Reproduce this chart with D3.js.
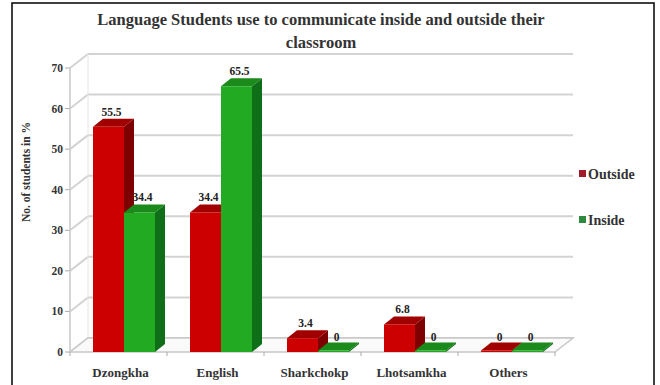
<!DOCTYPE html>
<html><head><meta charset="utf-8">
<script src="https://cdn.jsdelivr.net/npm/d3@7/dist/d3.min.js"></script>
<style>body{margin:0;background:#fff}svg{display:block}text{font-family:"Liberation Serif","Times New Roman",serif;font-weight:bold}</style>
</head><body>
<svg id="c" width="660" height="385"></svg>
<script>
const categories = ["Dzongkha","English","Sharkchokp","Lhotsamkha","Others"];
const seriesNames = ["Outside","Inside"];
const outside = [55.5, 34.4, 3.4, 6.8, 0];
const inside = [34.4, 65.5, 0, 0, 0];
const yTicks = [0,10,20,30,40,50,60,70];
const title1 = "Language Students use to communicate inside and outside their";
const title2 = "classroom";
const yTitle = "No. of students in %";

const svg = d3.select("#c");
// outer border
svg.append("rect").attr("x",12).attr("y",3).attr("width",642).attr("height",390)
  .attr("fill","#fff").attr("stroke","#000").attr("stroke-width",1.5);

const x0 = 70, x1 = 555, yb = 352, yt = 68;
const wdx = 18, wdy = -14; // wall depth
const bdx = 10, bdy = -8;  // bar depth
const y = d3.scaleLinear().domain([0,70]).range([yb,yt]);
const xb = d3.scaleBand().domain(categories).range([x0,x1]);
const series = [
  {name: seriesNames[0], vals: outside, front:"#cc0000", side:"#7e0000", top:"#a00000", legend:"#a01c2a"},
  {name: seriesNames[1], vals: inside, front:"#22aa22", side:"#0f6e18", top:"#1a8a1a", legend:"#2e8b3e"}
];
const grid = "#d3d3d3";

// walls
const g = svg.append("g");
yTicks.forEach(t => {
  const yy = y(t);
  g.append("line").attr("x1",x0).attr("y1",yy).attr("x2",x0+wdx).attr("y2",yy+wdy).attr("stroke",grid).attr("stroke-width",2);
  g.append("line").attr("x1",x0+wdx).attr("y1",yy+wdy).attr("x2",x1+wdx).attr("y2",yy+wdy).attr("stroke",grid).attr("stroke-width",2);
  g.append("line").attr("x1",x0-5).attr("y1",yy).attr("x2",x0).attr("y2",yy).attr("stroke","#aaa");
  g.append("text").attr("x",x0-7).attr("y",yy+4).attr("text-anchor","end").attr("font-size",11.5).attr("fill","#333").text(t);
});
g.append("line").attr("x1",x0).attr("y1",yb).attr("x2",x0).attr("y2",yt).attr("stroke","#c8c8c8").attr("stroke-width",1.5);
g.append("line").attr("x1",x0+wdx).attr("y1",yb+wdy).attr("x2",x0+wdx).attr("y2",yt+wdy).attr("stroke","#e4e4e4").attr("stroke-width",1);
// floor
g.append("path").attr("d",`M${x0},${yb}L${x1},${yb}L${x1+wdx},${yb+wdy}L${x0+wdx},${yb+wdy}Z`)
  .attr("fill","#fafafa").attr("stroke","#c8c8c8").attr("stroke-width",1.5);
categories.forEach((c,i)=>{
  const xx = xb(c);
  g.append("line").attr("x1",xx).attr("y1",yb).attr("x2",xx).attr("y2",yb+4).attr("stroke","#aaa");
});
g.append("line").attr("x1",x1).attr("y1",yb).attr("x2",x1).attr("y2",yb+4).attr("stroke","#aaa");

// bars
const bw = 31, off = 23;
categories.forEach((c,i)=>{
  series.forEach((s,j)=>{
    const v = s.vals[i];
    const xl = xb(c) + off + j*bw;
    const xr = xl + bw;
    const ytop = y(v) - (v===0 ? 1.5 : 0);
    const bg = svg.append("g");
    bg.append("path").attr("d",`M${xr},${yb}L${xr+bdx},${yb+bdy}L${xr+bdx},${ytop+bdy}L${xr},${ytop}Z`).attr("fill",s.side);
    bg.append("path").attr("d",`M${xl},${ytop}L${xl+bdx},${ytop+bdy}L${xr+bdx},${ytop+bdy}L${xr},${ytop}Z`).attr("fill",s.top);
    bg.append("rect").attr("x",xl).attr("y",ytop).attr("width",bw).attr("height",yb-ytop).attr("fill",s.front);
  });
});
// labels
categories.forEach((c,i)=>{
  series.forEach((s,j)=>{
    const v = s.vals[i];
    const xl = xb(c) + off + j*bw;
    svg.append("text").attr("x",xl+bw/2+bdx/2-2).attr("y",y(v)+bdy-3).attr("text-anchor","middle")
      .attr("font-size",11.5).attr("font-weight","normal").attr("fill","#222").text(v);
  });
});
// x labels
categories.forEach(c=>{
  svg.append("text").attr("x",xb(c)+xb.bandwidth()/2+2).attr("y",377).attr("text-anchor","middle")
    .attr("font-size",13).attr("fill","#333").text(c);
});
// title
svg.append("text").attr("x",321).attr("y",25).attr("text-anchor","middle").attr("font-size",16.5).attr("fill","#333").text(title1);
svg.append("text").attr("x",321).attr("y",48).attr("text-anchor","middle").attr("font-size",16.5).attr("fill","#333").text(title2);
// y title
svg.append("text").attr("transform","translate(30,172) rotate(-90)").attr("text-anchor","middle").attr("font-size",11.5).attr("fill","#333").text(yTitle);
// legend
series.forEach((s,j)=>{
  const ly = 174 + j*46;
  svg.append("rect").attr("x",579).attr("y",ly-4).attr("width",7).attr("height",7).attr("fill",s.legend);
  svg.append("text").attr("x",588).attr("y",ly+4.5).attr("font-size",14).attr("fill","#333").text(s.name);
});
</script>
</body></html>
